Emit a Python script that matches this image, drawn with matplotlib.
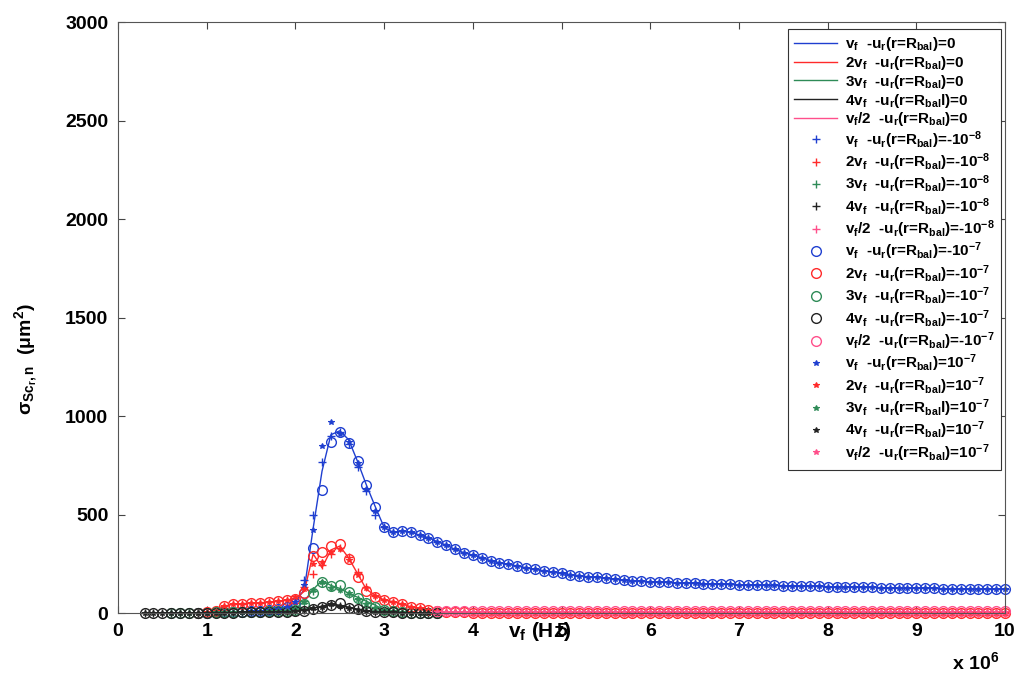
import numpy as np
import matplotlib.pyplot as plt

plt.rcParams['font.family'] = ['Liberation Sans', 'DejaVu Sans']
plt.rcParams['font.weight'] = 'bold'
plt.rcParams['mathtext.fontset'] = 'custom'
plt.rcParams['mathtext.rm'] = 'Liberation Sans:bold'
plt.rcParams['mathtext.it'] = 'Liberation Sans:bold'
plt.rcParams['mathtext.bf'] = 'Liberation Sans:bold'
plt.rcParams['mathtext.default'] = 'rm'

# frequency grids (x 10^6 Hz)
freq_blue = np.round(np.arange(0.9, 10.01, 0.1), 1)
freq_red = np.round(np.arange(0.9, 10.01, 0.1), 1)
freq_green = np.round(np.arange(0.6, 3.61, 0.1), 1)
freq_black = np.round(np.arange(0.3, 3.61, 0.1), 1)
freq_pink = np.round(np.arange(3.6, 10.01, 0.1), 1)

# v_f  (0.9 .. 1.9 | 2.0 .. 2.9 | 3.0 .. 10)
blue_low = [2, 2, 3, 4, 5, 6, 8, 10, 14, 20, 30]
blue_peak_0 = [55, 120, 430, 720, 905, 925, 880, 770, 650, 540]
blue_peak_m8 = [60, 170, 500, 765, 900, 920, 860, 740, 620, 500]
blue_peak_m7 = [50, 100, 330, 625, 870, 920, 865, 770, 650, 540]
blue_peak_p7 = [55, 140, 420, 850, 970, 910, 870, 760, 630, 520]
blue_tail = [435, 410, 415, 410, 396, 382, 362, 345, 323, 306,
             294, 281, 266, 255, 247, 239, 230, 221, 215, 208,
             201, 195, 190, 184, 181, 176, 171, 168, 164, 161,
             158, 157, 155, 153, 152, 150, 149, 147, 146, 145,
             144, 143, 142, 141, 140, 139, 138, 137, 136, 135,
             134, 133, 132, 131, 130, 130, 129, 128, 127, 127,
             126, 125, 125, 124, 124, 123, 122, 122, 121, 121,
             120]

# 2 v_f
red_low = [0, 3, 12, 35, 45, 48, 50, 52, 55, 60, 65]
red_peak_0 = [75, 110, 300, 230, 320, 340, 280, 200, 120, 90]
red_peak_m8 = [75, 130, 200, 245, 300, 330, 285, 210, 130, 85]
red_peak_m7 = [70, 100, 290, 310, 340, 350, 275, 185, 110, 80]
red_peak_p7 = [80, 120, 250, 260, 310, 325, 270, 195, 125, 88]
red_tail = [66, 58, 46, 32, 25, 15, 10, 6, 4, 3] + [1] * 61

# 3 v_f  (0.6 .. 1.9 | 2.0 .. 2.9 | 3.0 .. 3.6)
green_low = [0, 0, 0, 0, 2, 3, 4, 5, 5, 6, 7, 8, 10, 12]
green_peak_0 = [20, 60, 120, 165, 140, 125, 100, 80, 60, 40]
green_peak_m8 = [20, 50, 110, 150, 130, 120, 95, 70, 50, 30]
green_peak_m7 = [15, 45, 100, 160, 135, 140, 105, 75, 50, 30]
green_peak_p7 = [18, 55, 115, 155, 125, 115, 100, 70, 45, 28]
green_tail = [15, 8, 4, 2, 0, 0, 0]

# 4 v_f  (0.3 .. 1.9 | 2.0 .. 2.9 | 3.0 .. 3.6)
black_low = [0, 0, 0, 0, 0, 0, 0, 1, 1, 2, 2, 3, 3, 4, 4, 5, 6]
black_peak_0 = [10, 15, 25, 35, 45, 40, 30, 20, 12, 8]
black_peak_m8 = [8, 14, 22, 32, 42, 38, 28, 18, 10, 6]
black_peak_m7 = [8, 12, 20, 30, 40, 50, 28, 18, 10, 6]
black_peak_p7 = [9, 13, 24, 33, 44, 36, 26, 16, 10, 7]
black_tail = [5, 3, 2, 1, 0, 0, 0]

# v_f / 2
pink_0 = [2] * 65
pink_m8 = [3] * 65
pink_m7 = [8] * 65
pink_p7 = [5] * 65

c_blue = '#1f3fd0'
c_red = '#ff2a2a'
c_green = '#2e8b57'
c_black = '#222222'
c_pink = '#ff4f8b'

harm = [r'$v_f$  ', r'2$v_f$  ', r'3$v_f$  ', r'4$v_f$  ', r'$v_f$/2  ']
rbal = [r'-$u_r$(r=R$_{bal}$)', r'-$u_r$(r=R$_{bal}$)', r'-$u_r$(r=R$_{bal}$)',
        r'-$u_r$(r=R$_{bal}$l)', r'-$u_r$(r=R$_{bal}$)']
rbal_p7 = [r'-$u_r$(r=R$_{bal}$)', r'-$u_r$(r=R$_{bal}$)', r'-$u_r$(r=R$_{bal}$l)',
           r'-$u_r$(r=R$_{bal}$)', r'-$u_r$(r=R$_{bal}$)']

series = {
    '0': [(freq_blue, blue_low + blue_peak_0 + blue_tail),
          (freq_red, red_low + red_peak_0 + red_tail),
          (freq_green, green_low + green_peak_0 + green_tail),
          (freq_black, black_low + black_peak_0 + black_tail),
          (freq_pink, pink_0)],
    'm8': [(freq_blue, blue_low + blue_peak_m8 + blue_tail),
           (freq_red, red_low + red_peak_m8 + red_tail),
           (freq_green, green_low + green_peak_m8 + green_tail),
           (freq_black, black_low + black_peak_m8 + black_tail),
           (freq_pink, pink_m8)],
    'm7': [(freq_blue, blue_low + blue_peak_m7 + blue_tail),
           (freq_red, red_low + red_peak_m7 + red_tail),
           (freq_green, green_low + green_peak_m7 + green_tail),
           (freq_black, black_low + black_peak_m7 + black_tail),
           (freq_pink, pink_m7)],
    'p7': [(freq_blue, blue_low + blue_peak_p7 + blue_tail),
           (freq_red, red_low + red_peak_p7 + red_tail),
           (freq_green, green_low + green_peak_p7 + green_tail),
           (freq_black, black_low + black_peak_p7 + black_tail),
           (freq_pink, pink_p7)],
}
colors = [c_blue, c_red, c_green, c_black, c_pink]

fig = plt.figure(figsize=(10.19, 6.8), dpi=100)
ax = fig.add_axes([0.1158, 0.0985, 0.8705, 0.8691])

for i, (x, y) in enumerate(series['0']):
    ax.plot(x, y, '-', color=colors[i], lw=1.0,
            label=harm[i] + rbal[i] + '=0')
for i, (x, y) in enumerate(series['m8']):
    ax.plot(x, y, '+', color=colors[i], ms=6, mew=1.0, clip_on=False,
            label=harm[i] + r'-$u_r$(r=R$_{bal}$)=-10$^{-8}$')
for i, (x, y) in enumerate(series['m7']):
    ax.plot(x, y, 'o', color=colors[i], mfc='none', ms=7, mew=1.0, clip_on=False,
            label=harm[i] + r'-$u_r$(r=R$_{bal}$)=-10$^{-7}$')
for i, (x, y) in enumerate(series['p7']):
    ax.plot(x, y, '*', color=colors[i], ms=4, mew=0.8, clip_on=False,
            label=harm[i] + rbal_p7[i] + r'=10$^{-7}$')

ax.set_xlim(0, 10)
ax.set_ylim(0, 3000)
ax.set_xticks(range(0, 11))
ax.set_yticks(range(0, 3001, 500))
ax.tick_params(direction='in', top=True, right=True, length=5, width=0.8,
               labelsize=14, pad=7, color='#444444')
for lab in ax.get_xticklabels() + ax.get_yticklabels():
    lab.set_fontweight('bold')
for sp in ax.spines.values():
    sp.set_linewidth(0.8)
    sp.set_color('#555555')

ax.set_xlabel(r'$v_f$ (Hz)', fontsize=15, fontweight='bold')
ax.xaxis.set_label_coords(0.476, -0.012)
ax.set_ylabel(r'$\sigma_{Sc_r,n}$  ($\mu$m$^2$)', fontsize=14, fontweight='bold')
ax.yaxis.set_label_coords(-0.088, 0.43)
fig.text(0.957, 0.026, r'x 10$^6$', fontsize=14, fontweight='bold',
         ha='center', va='center')

leg = ax.legend(loc='upper right', bbox_to_anchor=(0.995, 0.988), fontsize=11,
                frameon=True, fancybox=False, edgecolor='#333333', framealpha=1,
                labelspacing=0.05, handlelength=2.8, handletextpad=0.5,
                borderpad=0.4, borderaxespad=0.0, numpoints=1)
leg.get_frame().set_linewidth(0.8)

fig.savefig('out.png', dpi=100)
